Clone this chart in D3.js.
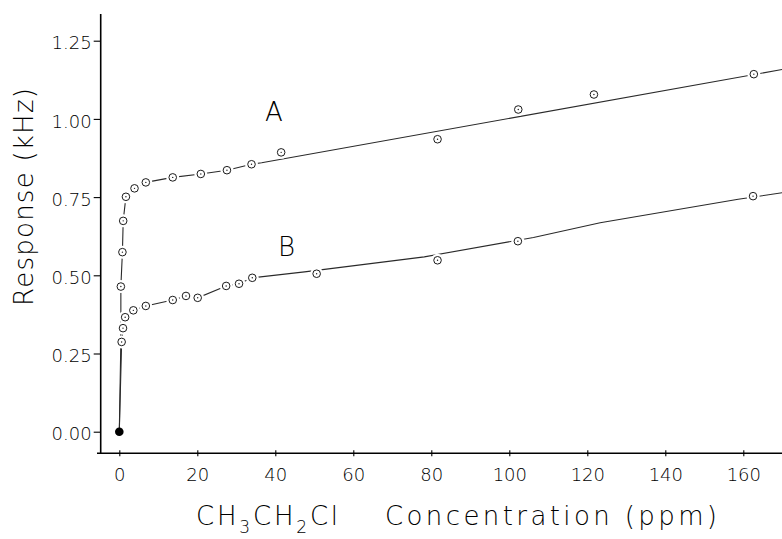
<!DOCTYPE html>
<html lang="en">
<head>
    <meta charset="UTF-8">
    <title>Response vs concentration</title>
    <script src="https://d3js.org/d3.v7.min.js"></script>
    <style>
        body { margin: 0; background: #fff; }
        text { font-family: "DejaVu Sans", sans-serif; font-weight: 200; fill: #000; }
    </style>
</head>
<body>
<script>

// measured points (ppm, kHz)
const concA = [0.4, 0.8, 1.0, 1.7, 3.9, 6.8, 13.7, 20.9, 27.6, 33.9, 41.5, 81.6, 102.3, 121.7, 162.7];
const respA = [0.464, 0.574, 0.674, 0.751, 0.778, 0.797, 0.813, 0.824, 0.836, 0.855, 0.893, 0.935, 1.030, 1.078, 1.143];

const concB = [0.6, 0.95, 1.5, 3.6, 6.8, 13.7, 17.1, 20.1, 27.4, 30.7, 34.1, 50.6, 81.6, 102.2, 162.5];
const respB = [0.287, 0.331, 0.366, 0.388, 0.402, 0.421, 0.434, 0.428, 0.466, 0.473, 0.492, 0.505, 0.548, 0.609, 0.753];

// drawn calibration curves
const curveAConc = [0, 0.4, 0.4, 0.8, 1.0, 1.7, 3.9, 6.8, 13.7, 20.9, 27.6, 33.9, 36.5, 170];
const curveAResp = [0, 0.29, 0.464, 0.574, 0.674, 0.751, 0.778, 0.797, 0.813, 0.824, 0.836, 0.855, 0.860, 1.158];
const curveBConc = [0, 0.6, 0.95, 1.5, 3.6, 6.8, 13.7, 17.1, 20.1, 27.4, 30.7, 34.1, 47.5, 78.2, 106.2, 123.3, 158.7, 170];
const curveBResp = [0, 0.287, 0.331, 0.366, 0.388, 0.402, 0.421, 0.434, 0.428, 0.466, 0.473, 0.492, 0.511, 0.559, 0.621, 0.668, 0.743, 0.764];

const origin = [[0, 0]];

const xTicks = [0, 20, 40, 60, 80, 100, 120, 140, 160];
const yTicks = [0, 0.25, 0.5, 0.75, 1.0, 1.25];

const w = 782;
const h = 539;

const x = d3.scaleLinear().domain([0, 160]).range([119.3, 743.3]);
const y = d3.scaleLinear().domain([0, 1.25]).range([431.7, 40.7]);

const axisX = 100.7;
const axisY = 453.3;

const svg = d3.select("body")
    .append("svg")
    .attr("width", w)
    .attr("height", h);

const zip = (a, b) => a.map((d, i) => [d, b[i]]);

const line = d3.line()
    .x(d => x(d[0]))
    .y(d => y(d[1]));

// curves
[zip(curveAConc, curveAResp), zip(curveBConc, curveBResp)].forEach(c => {
    svg.append("path")
        .attr("d", line(c))
        .attr("fill", "none")
        .attr("stroke", "#2a2a2a")
        .attr("stroke-width", 1.1);
});

// white gaps around the markers
const pts = zip(concA, respA).concat(zip(concB, respB));

svg.selectAll("circle.gap")
    .data(pts)
    .enter()
    .append("circle")
    .attr("class", "gap")
    .attr("cx", d => x(d[0]))
    .attr("cy", d => y(d[1]))
    .attr("r", 6.5)
    .attr("fill", "#fff");

svg.selectAll("circle.pt")
    .data(pts)
    .enter()
    .append("circle")
    .attr("class", "pt")
    .attr("cx", d => x(d[0]))
    .attr("cy", d => y(d[1]))
    .attr("r", 3.8)
    .attr("fill", "#fff")
    .attr("stroke", "#1a1a1a")
    .attr("stroke-width", 1);

svg.selectAll("circle.dot")
    .data(pts)
    .enter()
    .append("circle")
    .attr("class", "dot")
    .attr("cx", d => x(d[0]))
    .attr("cy", d => y(d[1]))
    .attr("r", 0.7)
    .attr("fill", "#1a1a1a");

svg.selectAll("circle.origin")
    .data(origin)
    .enter()
    .append("circle")
    .attr("class", "origin")
    .attr("cx", d => x(d[0]))
    .attr("cy", d => y(d[1]))
    .attr("r", 4.3)
    .attr("fill", "#000");

// axes
const xAxis = d3.axisBottom(x)
    .tickValues(xTicks)
    .tickSize(3)
    .tickPadding(12)
    .tickFormat(d3.format("d"));

const gx = svg.append("g")
    .attr("transform", "translate(0," + axisY + ")")
    .call(xAxis);
gx.select(".domain").remove();
gx.selectAll(".tick line").attr("y1", -3).attr("stroke-width", 1.1);
gx.selectAll("text").attr("font-size", 18).attr("font-family", "DejaVu Sans").attr("font-weight", 200).attr("fill", "#000");

const yAxis = d3.axisLeft(y)
    .tickValues(yTicks)
    .tickSize(7)
    .tickPadding(2)
    .tickFormat(d3.format(".2f"));

const gy = svg.append("g")
    .attr("transform", "translate(" + axisX + ",0)")
    .call(yAxis);
gy.select(".domain").remove();
gy.selectAll(".tick line").attr("stroke-width", 1.1);
gy.selectAll("text").attr("font-size", 18).attr("font-family", "DejaVu Sans").attr("font-weight", 200).attr("fill", "#000").attr("dy", "0.45em");

svg.append("line")
    .attr("x1", axisX).attr("x2", axisX)
    .attr("y1", 14).attr("y2", axisY)
    .attr("stroke", "#000").attr("stroke-width", 1.6);

svg.append("line")
    .attr("x1", 97).attr("x2", w)
    .attr("y1", axisY).attr("y2", axisY)
    .attr("stroke", "#000").attr("stroke-width", 1.6);

// curve labels
svg.append("text").attr("x", 265).attr("y", 121).attr("font-size", 26).text("A");
svg.append("text").attr("x", 278).attr("y", 256).attr("font-size", 26).text("B");

// axis titles
svg.append("text")
    .attr("transform", "translate(33,197) rotate(-90)")
    .attr("text-anchor", "middle")
    .attr("font-size", 26)
    .attr("textLength", 218)
    .attr("lengthAdjust", "spacing")
    .text("Response (kHz)");

const xt = svg.append("text")
    .attr("x", 196)
    .attr("y", 525)
    .attr("font-size", 26)
    .attr("letter-spacing", 2.8);
xt.append("tspan").text("CH");
xt.append("tspan").attr("dy", 8).attr("font-size", 17).text("3");
xt.append("tspan").attr("dy", -8).text("CH");
xt.append("tspan").attr("dy", 8).attr("font-size", 17).text("2");
xt.append("tspan").attr("dy", -8).text("Cl");

svg.append("text")
    .attr("x", 385)
    .attr("y", 525)
    .attr("font-size", 26)
    .attr("textLength", 332)
    .attr("lengthAdjust", "spacing")
    .text("Concentration (ppm)");

</script>
</body>
</html>
